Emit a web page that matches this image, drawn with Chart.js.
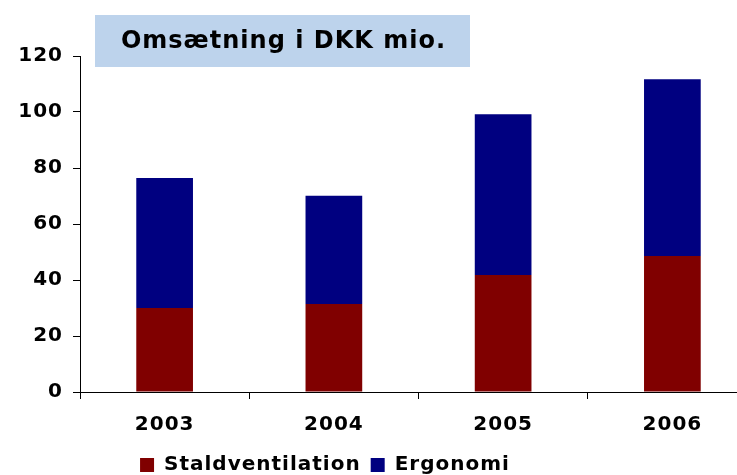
<!DOCTYPE html>
<html><head><meta charset="utf-8">
<script src="https://cdn.jsdelivr.net/npm/chart.js@4/dist/chart.umd.min.js"></script>
<style>
html,body{margin:0;padding:0;background:#fff;overflow:hidden;}
#wrap{position:relative;width:757px;height:475px;}
</style></head><body>
<div id="wrap"><canvas id="c"></canvas></div>
<script>
const categories = ['2003', '2004', '2005', '2006'];
const staldventilation = [30, 31.4, 41.8, 48.6];
const ergonomi = [46.4, 38.7, 57.4, 63.1];
const yTicks = [0, 20, 40, 60, 80, 100, 120];
const seriesNames = ['Staldventilation', 'Ergonomi'];
const chartTitle = 'Omsætning i DKK mio.';

const FONT = 'DejaVu Sans';
const tickFont = {family: FONT, size: 20, weight: 'bold'};

const spacing = {
  id: 'spacing',
  beforeUpdate(chart) { chart.ctx.letterSpacing = '1px'; },
  beforeDraw(chart) { chart.ctx.letterSpacing = '1px'; }
};

const titleBox = {
  id: 'titleBox',
  afterDraw(chart) {
    const ctx = chart.ctx;
    ctx.save();
    ctx.fillStyle = '#BDD3EC';
    ctx.fillRect(95, 15, 375, 52);
    ctx.fillStyle = '#000';
    ctx.font = 'bold 24px "' + FONT + '"';
    ctx.textAlign = 'center';
    ctx.textBaseline = 'middle';
    ctx.fillText(chartTitle, 283.5, 42);
    ctx.restore();
  }
};

const legendPlace = {
  id: 'legendPlace',
  afterLayout(chart) {
    const lg = chart.legend;
    if (!lg) return;
    lg.left = 0;
    lg.right = 650;
    lg.top += 10;
    lg.bottom += 10;
  }
};

new Chart(document.getElementById('c'), {
  type: 'bar',
  data: {
    labels: categories,
    datasets: [
      {label: seriesNames[0], data: staldventilation, backgroundColor: '#800000', borderWidth: 0,
       barPercentage: 0.335, categoryPercentage: 1},
      {label: seriesNames[1], data: ergonomi, backgroundColor: '#000080', borderWidth: 0,
       barPercentage: 0.335, categoryPercentage: 1}
    ]
  },
  options: {
    responsive: true,
    maintainAspectRatio: false,
    animation: false,
    layout: {padding: {top: 56, left: 0, right: 0, bottom: 0}},
    plugins: {
      legend: {
        position: 'bottom',
        labels: {boxWidth: 14, boxHeight: 14, padding: 10, color: '#000', font: tickFont}
      },
      tooltip: {enabled: false},
      title: {display: false}
    },
    scales: {
      x: {
        stacked: true,
        grid: {display: true, drawOnChartArea: false, drawTicks: true, tickLength: 7, color: '#000', offset: true},
        border: {color: '#000', width: 1},
        ticks: {color: '#000', padding: 14, font: tickFont, maxRotation: 0},
        afterFit(s) { s.height = 43; }
      },
      y: {
        stacked: true,
        min: 0,
        max: 120,
        grid: {drawOnChartArea: false, drawTicks: true, tickLength: 7, color: '#000'},
        border: {color: '#000', width: 1},
        ticks: {color: '#000', padding: 10, font: tickFont},
        afterBuildTicks(s) { s.ticks = yTicks.map(v => ({value: v})); },
        afterFit(s) { s.width = 80; }
      }
    }
  },
  plugins: [spacing, titleBox, legendPlace]
});
</script>
</body></html>
